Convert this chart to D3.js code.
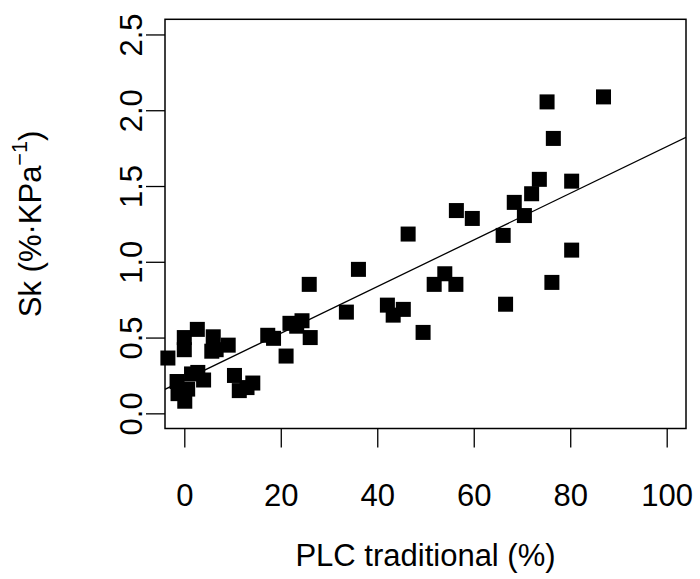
<!DOCTYPE html>
<html>
<head>
<meta charset="utf-8">
<script src="https://cdn.jsdelivr.net/npm/d3@7"></script>
<style>
  html, body { margin: 0; padding: 0; background: #fff; }
  svg { display: block; }
  text { font-family: "Liberation Sans", Arial, Helvetica, sans-serif; fill: #000; }
</style>
</head>
<body>
<svg id="chart" width="700" height="579"></svg>
<script>
// PLC (traditional method) against sensitivity Sk, one square per sample
const plcTraditional = [
  -3.4, 0.0, 0.0, 2.7, 6.0, 5.7, 6.6, 9.1,
  -1.5, -1.3, 0.1, 0.7, 1.5, 2.8, 4.0,
  10.4, 11.4, 13.0, 14.2, 17.3, 18.5, 21.1, 21.9, 23.3, 24.4, 26.1, 25.9,
  33.6, 36.1, 42.1, 43.3, 45.4, 46.4, 49.5, 51.8, 54.0, 56.3, 56.4, 59.7,
  66.1, 66.6, 68.4, 70.5, 72.0, 73.6, 75.2, 76.5, 76.2, 80.3, 80.3, 86.9
];
const skValues = [
  0.365, 0.50, 0.42, 0.554, 0.505, 0.41, 0.42, 0.45,
  0.21, 0.13, 0.08, 0.16, 0.26, 0.27, 0.22,
  0.25, 0.15, 0.17, 0.20, 0.515, 0.495, 0.378, 0.594, 0.575, 0.611, 0.50, 0.851,
  0.668, 0.95, 0.714, 0.648, 0.686, 1.183, 0.534, 0.851, 0.921, 0.851, 1.338, 1.286,
  1.174, 0.72, 1.392, 1.305, 1.449, 1.544, 2.055, 1.814, 0.864, 1.532, 1.077, 2.088
];

// Linear fit drawn across the whole panel
const fitIntercept = 0.22;
const fitSlope = 0.0154;

const xTicks = [0, 20, 40, 60, 80, 100];
const yTicks = [0.0, 0.5, 1.0, 1.5, 2.0, 2.5];

const xTitle = "PLC traditional (%)";

const plot = { left: 165, right: 686, top: 19.3, bottom: 428.5 };
const fontSize = 31;
const tickLen = 19;

const svg = d3.select("#chart");

const x = d3.scaleLinear().domain([-4, 104]).range([plot.left, plot.right]);
const y = d3.scaleLinear().domain([-0.1, 2.6]).range([plot.bottom, plot.top]);

// clip region for the fit line
svg.append("defs").append("clipPath").attr("id", "panel")
  .append("rect")
  .attr("x", plot.left).attr("y", plot.top)
  .attr("width", plot.right - plot.left).attr("height", plot.bottom - plot.top);

// points: filled squares
const side = 15;
svg.append("g").selectAll("rect")
  .data(d3.zip(plcTraditional, skValues))
  .join("rect")
  .attr("x", d => x(d[0]) - side / 2)
  .attr("y", d => y(d[1]) - side / 2)
  .attr("width", side)
  .attr("height", side)
  .attr("fill", "#000");

// regression line
const xDom = x.domain();
svg.append("line")
  .attr("clip-path", "url(#panel)")
  .attr("x1", x(xDom[0])).attr("y1", y(fitIntercept + fitSlope * xDom[0]))
  .attr("x2", x(xDom[1])).attr("y2", y(fitIntercept + fitSlope * xDom[1]))
  .attr("stroke", "#000").attr("stroke-width", 1.3);

// axes
const xAxis = d3.axisBottom(x).tickValues(xTicks).tickSize(tickLen)
  .tickFormat(d3.format("d"));
const gx = svg.append("g").attr("transform", `translate(0,${plot.bottom})`).call(xAxis);
gx.select(".domain").remove();
gx.selectAll(".tick line").attr("stroke", "#000").attr("stroke-width", 1.3);
gx.selectAll(".tick text")
  .attr("font-size", fontSize)
  .attr("font-family", null)
  .attr("dy", null)
  .attr("y", 506 - plot.bottom);

const yAxis = d3.axisLeft(y).tickValues(yTicks).tickSize(tickLen)
  .tickFormat(d3.format(".1f"));
const gy = svg.append("g").attr("transform", `translate(${plot.left},0)`).call(yAxis);
gy.select(".domain").remove();
gy.selectAll(".tick line").attr("stroke", "#000").attr("stroke-width", 1.3);
gy.selectAll(".tick text")
  .attr("font-size", fontSize)
  .attr("font-family", null)
  .attr("x", null).attr("dy", null)
  .attr("text-anchor", "middle")
  .attr("transform", `translate(${142 - plot.left},0) rotate(-90)`);

// box around the panel
svg.append("rect")
  .attr("x", plot.left).attr("y", plot.top)
  .attr("width", plot.right - plot.left).attr("height", plot.bottom - plot.top)
  .attr("fill", "none").attr("stroke", "#000").attr("stroke-width", 1.5);

// axis titles
svg.append("text")
  .attr("x", (plot.left + plot.right) / 2).attr("y", 566)
  .attr("text-anchor", "middle").attr("font-size", fontSize)
  .text(xTitle);

const yTitle = svg.append("text")
  .attr("transform", `translate(41,${(plot.top + plot.bottom) / 2}) rotate(-90)`)
  .attr("text-anchor", "middle").attr("font-size", fontSize);
yTitle.append("tspan").text("Sk (%\u00B7KPa");
yTitle.append("tspan").attr("font-size", fontSize * 0.7).attr("dy", -fontSize * 0.45).text("\u22121");
yTitle.append("tspan").attr("dy", fontSize * 0.45).text(")");
</script>
</body>
</html>
